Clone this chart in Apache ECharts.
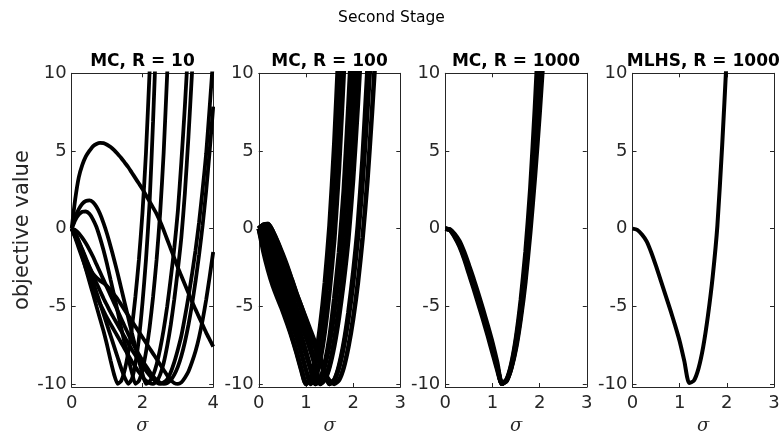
<!DOCTYPE html>
<html>
<head>
<meta charset="utf-8">
<script src="https://cdn.jsdelivr.net/npm/echarts@6/dist/echarts.min.js"></script>
<style>
  html, body { margin: 0; padding: 0; background: #fff; }
  #chart { width: 783px; height: 440px; }
</style>
</head>
<body>
<div id="chart"></div>
<script>
// sigma grid shared by every curve (a curve may stop early once it leaves the plot)
const sigma = [0, 0.1, 0.2, 0.3, 0.4, 0.5, 0.6, 0.7, 0.8, 0.9,
               1.0, 1.1, 1.2, 1.3, 1.4, 1.5, 1.6, 1.7, 1.8, 1.9,
               2.0, 2.1, 2.2, 2.3, 2.4, 2.5, 2.6, 2.7, 2.8, 2.9,
               3.0, 3.1, 3.2, 3.3, 3.4, 3.5, 3.6, 3.7, 3.8, 3.9, 4.0];

const yTicks = [-10, -5, 0, 5, 10];
const panelTitles = ['MC, R = 10', 'MC, R = 100', 'MC, R = 1000', 'MLHS, R = 1000'];
const xMaxes = [4, 3, 3, 3];
const xSteps = [2, 1, 1, 1];

// MC, R = 10
const mcR10 = [
  [0,-0.5,-1.1,-1.8,-2.6,-3.4,-4.2,-5.0,-5.8,-6.6,-7.5,-8.5,-9.4,-10,-9.8,-9.1,-7.95,-6.4,-4.4,-2.0,1.0,4.9,10,15],
  [0,-0.3,-0.8,-1.4,-2.0,-2.7,-3.4,-4.1,-4.8,-5.5,-6.2,-6.9,-7.6,-8.3,-9.0,-9.6,-10,-9.7,-8.7,-7.1,-4.8,-2.0,1.6,6.9,13],
  [0,0.55,0.9,1.08,1.1,0.95,0.6,0.1,-0.6,-1.4,-2.3,-3.3,-4.3,-5.35,-6.4,-7.4,-8.35,-9.25,-10,-9.8,-9.1,-7.95,-6.4,-4.4,-2.0,1.0,4.9,10,15],
  [0,0.75,1.25,1.6,1.78,1.82,1.7,1.4,0.95,0.35,-0.35,-1.15,-2.0,-2.9,-3.85,-4.8,-5.75,-6.7,-7.6,-8.5,-9.35,-10,-9.85,-9.45,-8.75,-7.75,-6.5,-5.0,-3.2,-1.25,1.1,4.3,7.9,12],
  [0,-0.6,-1.25,-1.9,-2.55,-3.2,-3.8,-4.35,-4.85,-5.3,-5.75,-6.15,-6.55,-6.95,-7.35,-7.75,-8.15,-8.55,-8.9,-9.25,-9.55,-9.8,-9.95,-10,-9.85,-9.4,-8.65,-7.55,-6.2,-4.55,-2.65,-0.55,2.3,5.9,10,14],
  [0,-0.4,-0.85,-1.35,-1.9,-2.45,-3.0,-3.5,-4.0,-4.5,-4.95,-5.4,-5.8,-6.2,-6.6,-7.0,-7.4,-7.8,-8.15,-8.5,-8.85,-9.15,-9.45,-9.7,-9.9,-10,-9.9,-9.7,-9.25,-8.6,-7.8,-6.9,-5.7,-4.4,-2.95,-1.4,0.4,2.5,4.8,7.8,11],
  [0,-0.1,-0.3,-0.6,-0.95,-1.35,-1.8,-2.3,-2.8,-3.3,-3.8,-4.3,-4.8,-5.3,-5.8,-6.3,-6.8,-7.25,-7.7,-8.1,-8.5,-8.85,-9.2,-9.5,-9.75,-9.92,-10,-9.95,-9.75,-9.4,-8.9,-8.2,-7.3,-6.2,-4.9,-3.4,-1.7,0.2,2.4,5.0,7.85],
  [0,-0.5,-1.0,-1.5,-2.0,-2.5,-2.9,-3.15,-3.35,-3.5,-3.7,-3.95,-4.25,-4.55,-4.9,-5.25,-5.6,-5.95,-6.3,-6.65,-7.0,-7.35,-7.7,-8.05,-8.4,-8.75,-9.1,-9.45,-9.75,-9.95,-10,-9.9,-9.6,-9.2,-8.6,-7.9,-7.0,-5.9,-4.6,-3.1,-1.5],
  [0,1.9,3.3,4.1,4.65,5.0,5.3,5.45,5.52,5.5,5.4,5.25,5.05,4.8,4.55,4.25,3.95,3.6,3.25,2.9,2.55,2.15,1.75,1.35,0.95,0.45,-0.1,-0.7,-1.3,-1.9,-2.5,-3.05,-3.6,-4.15,-4.7,-5.2,-5.7,-6.2,-6.7,-7.15,-7.6]
];

// MC, R = 100
const mcR100 = [
  [0,-1.5,-2.7,-3.7,-4.5,-5.25,-6.1,-7.0,-8.0,-9.1,-10,-9.6,-8.35,-6.3,-3.5,0.2,5.4,12],
  [0,-1.2,-2.3,-3.3,-4.2,-5.0,-5.9,-6.9,-7.9,-9.0,-10,-9.7,-8.7,-7.1,-4.8,-2.0,1.6,6.9,13],
  [0,-0.8,-1.8,-2.8,-3.7,-4.5,-5.3,-6.1,-7.0,-8.0,-9.1,-10,-9.6,-8.5,-6.6,-4.0,-0.7,3.9,10,16],
  [0,-0.3,-1.3,-2.3,-3.2,-4.0,-4.8,-5.6,-6.4,-7.2,-8.1,-9.1,-10,-9.7,-8.65,-7.0,-4.5,-1.55,2.4,7.9,14],
  [0,0,-0.8,-1.8,-2.7,-3.6,-4.4,-5.2,-6.0,-6.9,-7.9,-9.0,-10,-9.75,-8.85,-7.4,-5.4,-2.9,0.2,4.5,10,15],
  [0,0.2,-0.3,-1.2,-2.1,-3.0,-3.8,-4.6,-5.4,-6.2,-7.0,-7.9,-8.9,-10,-9.7,-8.75,-7.2,-5.05,-2.4,1.0,5.9,11.5],
  [0,0.2,0,-0.7,-1.6,-2.5,-3.4,-4.3,-5.1,-5.9,-6.7,-7.6,-8.7,-10,-9.75,-8.9,-7.55,-5.7,-3.4,-0.6,3.2,8.0,13.5],
  [0,0.25,0.2,-0.4,-1.2,-2.0,-2.8,-3.6,-4.4,-5.2,-6.0,-6.8,-7.6,-8.4,-9.2,-10,-9.75,-8.85,-7.4,-5.4,-2.9,0.2,4.5,10,15],
  [0,0.25,0.3,-0.2,-0.9,-1.7,-2.5,-3.3,-4.2,-5.0,-5.8,-6.6,-7.4,-8.3,-9.2,-10,-9.75,-8.95,-7.6,-5.8,-3.5,-0.6,3.0,7.5,12.5],
  [0,0.25,0.3,-0.2,-0.85,-1.6,-2.4,-3.3,-4.2,-5.0,-5.9,-6.8,-7.7,-8.6,-9.3,-9.8,-10,-9.75,-8.95,-7.6,-5.8,-3.5,-0.6,3.0,7.5,12.5]
];

// MC, R = 1000
const mcR1000 = [
  [0,-0.1,-0.55,-1.15,-1.95,-2.9,-3.85,-4.85,-5.85,-6.9,-8.0,-9.1,-10,-9.7,-8.7,-7.0,-4.6,-1.5,2.5,7.8,14],
  [0,-0.08,-0.45,-0.95,-1.7,-2.6,-3.55,-4.5,-5.5,-6.55,-7.65,-8.85,-10,-9.75,-8.8,-7.2,-5.0,-2.1,1.6,6.4,12],
  [0,-0.05,-0.35,-0.8,-1.5,-2.35,-3.25,-4.2,-5.2,-6.25,-7.35,-8.6,-10,-9.75,-8.9,-7.4,-5.3,-2.6,0.9,5.3,10.5],
  [0,-0.08,-0.45,-0.95,-1.7,-2.6,-3.55,-4.5,-5.5,-6.55,-7.65,-8.85,-10,-9.8,-8.95,-7.55,-5.55,-2.95,0.3,4.3,9.0,14],
  [0,-0.1,-0.5,-1.05,-1.85,-2.75,-3.7,-4.65,-5.65,-6.7,-7.8,-8.95,-10,-9.8,-9.0,-7.7,-5.8,-3.4,-0.3,3.3,7.4,12]
];

// MLHS, R = 1000
const mlhsR1000 = [
  [0,-0.08,-0.38,-0.82,-1.55,-2.42,-3.35,-4.28,-5.22,-6.2,-7.25,-8.55,-9.95,-9.8,-9.0,-7.6,-5.6,-3.1,0.2,5.3,11.2]
];

const panels = [mcR10, mcR100, mcR1000, mlhsR1000];
const lineWidths = [3.8, 4.6, 4.4, 4];

const axisColor = '#262626';
const sansFont = 'DejaVu Sans';
const gridLefts = [71.7, 258.8, 445.3, 632.5];
const gridWidth = 141.5;
const gridTop = 73.3;
const gridHeight = 313.7;

const grids = [];
const xAxes = [];
const yAxes = [];
const titles = [{
    text: 'Second Stage',
    left: 391.5,
    top: 10,
    textAlign: 'center',
    padding: 0,
    textStyle: {fontFamily: sansFont, fontSize: 15.5, fontWeight: 'normal', color: '#000'}
}];

panels.forEach((curves, p) => {
    grids.push({left: gridLefts[p], top: gridTop, width: gridWidth, height: gridHeight});
    titles.push({
        text: panelTitles[p],
        left: gridLefts[p] + gridWidth / 2,
        top: 53,
        textAlign: 'center',
        padding: 0,
        textStyle: {fontFamily: sansFont, fontSize: 17, fontWeight: 'bold', color: '#000'}
    });
    const tickStyle = {inside: true, length: 4, lineStyle: {color: axisColor, width: 1}};
    const lineStyle = {show: true, onZero: false, lineStyle: {color: axisColor, width: 1}};
    xAxes.push({
        type: 'value', gridIndex: p, position: 'bottom',
        min: 0, max: xMaxes[p], interval: xSteps[p],
        axisLine: lineStyle, axisTick: tickStyle, splitLine: {show: false},
        axisLabel: {fontFamily: sansFont, fontSize: 18, color: axisColor, margin: 7},
        name: 'σ', nameLocation: 'middle', nameGap: 27,
        nameTextStyle: {fontFamily: 'DejaVu Serif', fontStyle: 'italic', fontSize: 18, color: axisColor}
    });
    xAxes.push({
        type: 'value', gridIndex: p, position: 'top',
        min: 0, max: xMaxes[p], interval: xSteps[p],
        axisLine: lineStyle, axisTick: tickStyle, splitLine: {show: false},
        axisLabel: {show: false}
    });
    yAxes.push({
        type: 'value', gridIndex: p, position: 'left',
        min: -10.2, max: 10,
        axisLine: lineStyle,
        axisTick: Object.assign({customValues: yTicks}, tickStyle),
        splitLine: {show: false},
        axisLabel: {customValues: yTicks, fontFamily: sansFont, fontSize: 18, color: axisColor, margin: 5},
        name: p === 0 ? 'objective value' : '',
        nameLocation: 'middle', nameGap: 33,
        nameTextStyle: {fontFamily: sansFont, fontSize: 21, color: axisColor}
    });
    yAxes.push({
        type: 'value', gridIndex: p, position: 'right',
        min: -10.2, max: 10,
        axisLine: lineStyle,
        axisTick: Object.assign({customValues: yTicks}, tickStyle),
        splitLine: {show: false},
        axisLabel: {show: false}
    });
});

const series = [];
panels.forEach((curves, p) => {
    curves.forEach(ys => {
        series.push({
            type: 'line',
            xAxisIndex: p * 2,
            yAxisIndex: p * 2,
            data: ys.map((v, i) => [sigma[i], v]),
            symbol: 'none',
            smooth: 0.2,
            clip: true,
            silent: true,
            lineStyle: {color: '#000', width: lineWidths[p]}
        });
    });
});

const myChart = echarts.init(document.getElementById('chart'), null, {renderer: 'canvas'});
const option = {
    animation: false,
    backgroundColor: '#fff',
    title: titles,
    grid: grids,
    xAxis: xAxes,
    yAxis: yAxes,
    series: series
};
option && myChart.setOption(option);
</script>
</body>
</html>
